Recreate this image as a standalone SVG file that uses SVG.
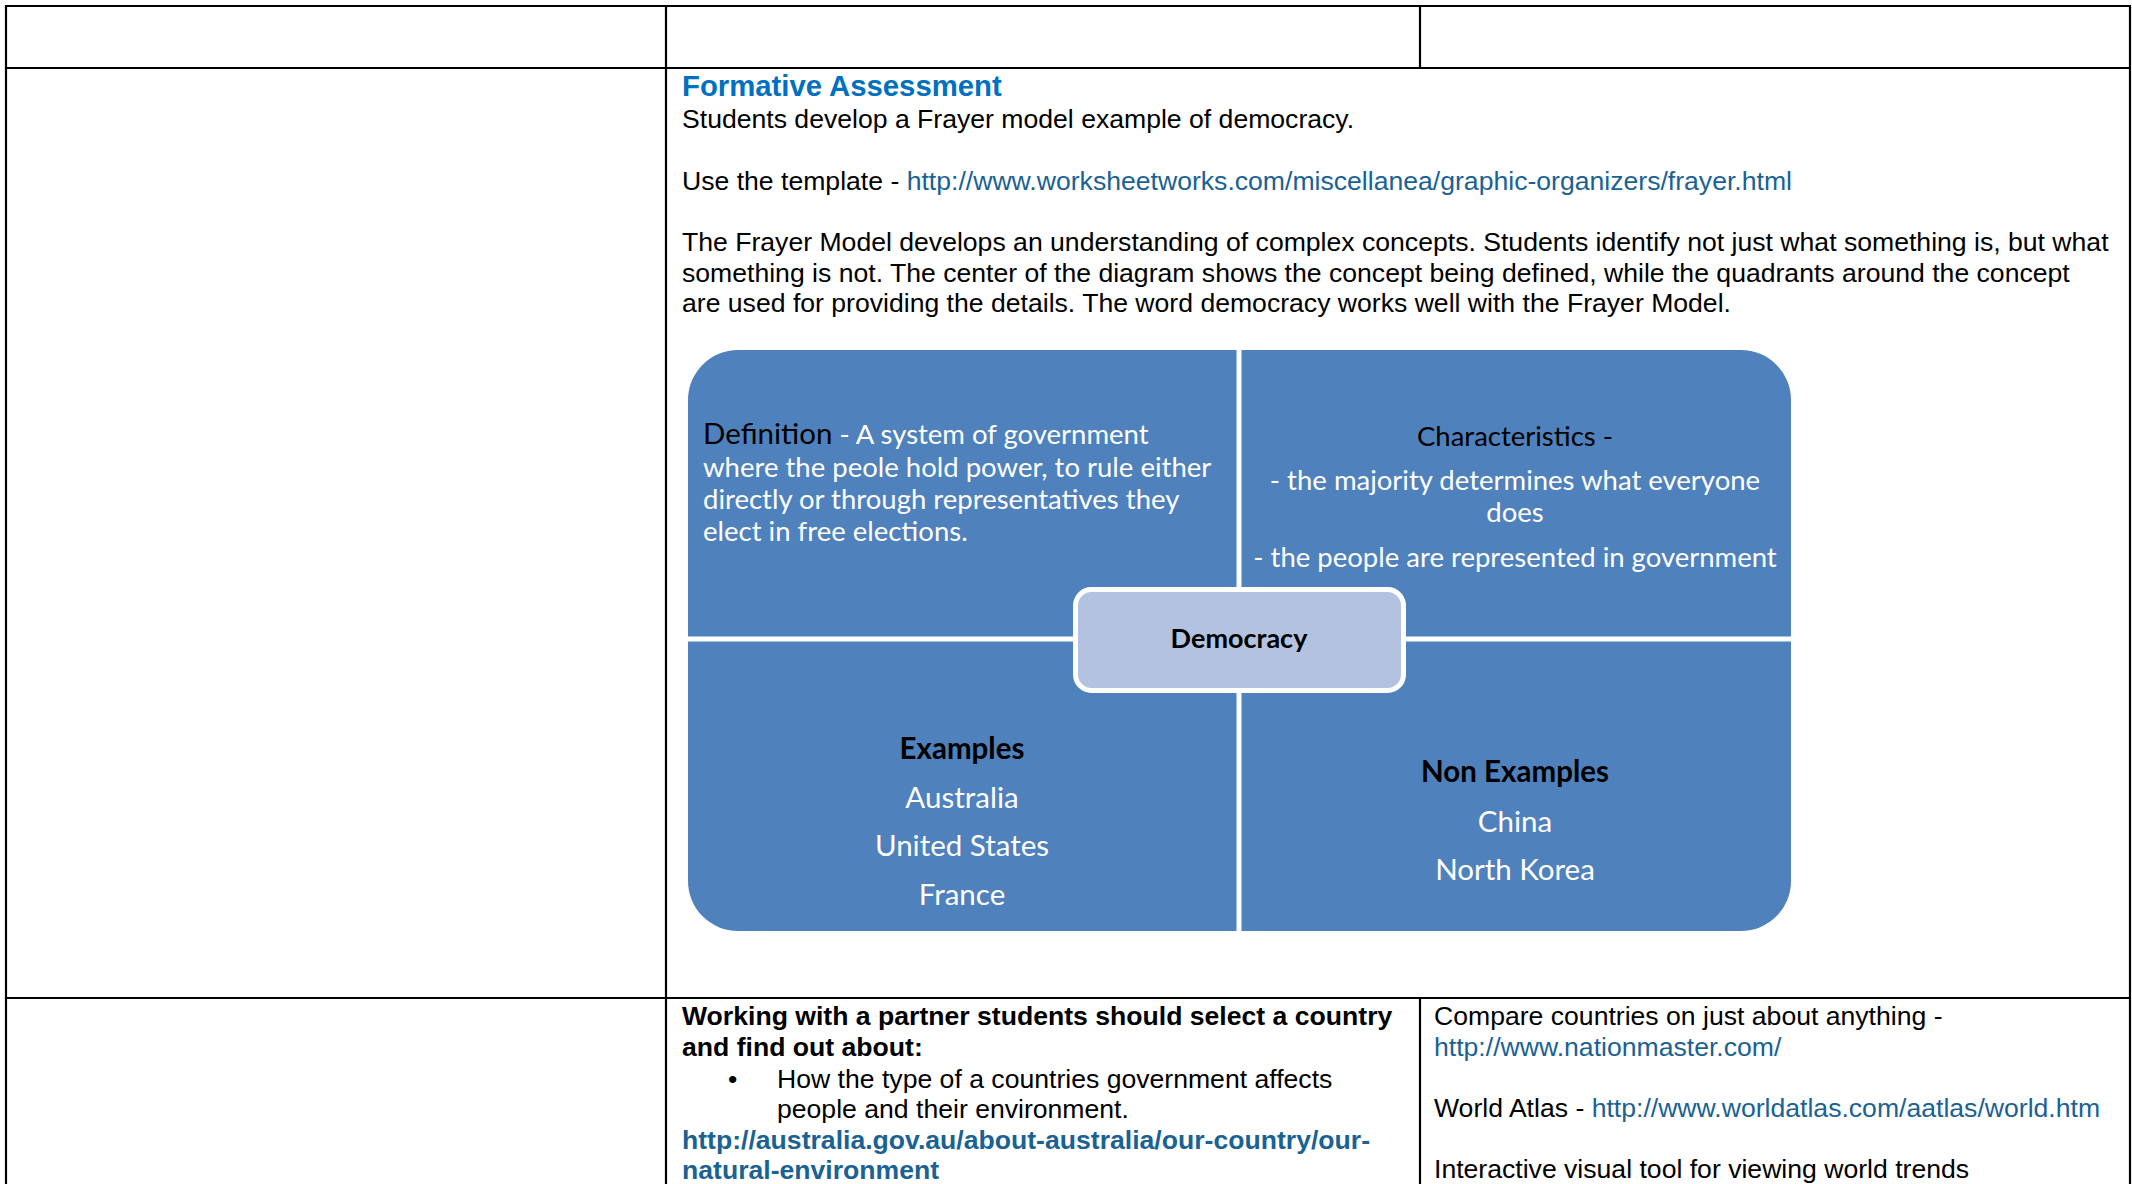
<svg xmlns="http://www.w3.org/2000/svg" width="2132" height="1184" viewBox="0 0 2132 1184">
<style>
.grid{stroke:#000;stroke-width:2.2;fill:none}
.ar{font-family:"Liberation Sans",Arial,sans-serif;font-size:26.6px;fill:#000}
.b{font-weight:bold}
.lk{fill:#1A6294}
.hd{font-family:"Liberation Sans",Arial,sans-serif;font-size:29.3px;font-weight:bold;fill:#0070C0}
.q{fill:#4F81BD}
.cb{font-family:Lato,"Open Sans",sans-serif;font-size:27.5px;fill:#fff}
.cl{font-family:Lato,"Open Sans",sans-serif;font-size:29.5px;fill:#fff}
.dm{font-family:Lato,"Open Sans",sans-serif;font-size:27px}
.blk{fill:#000}
.ctr{text-anchor:middle}
</style>
<rect width="2132" height="1184" fill="#fff"/>
<g id="table">
<line class="grid" x1="5" y1="6" x2="2131" y2="6"/>
<line class="grid" x1="5" y1="68" x2="2131" y2="68"/>
<line class="grid" x1="5" y1="998" x2="2131" y2="998"/>
<line class="grid" x1="6" y1="5" x2="6" y2="1184"/>
<line class="grid" x1="666" y1="5" x2="666" y2="1184"/>
<line class="grid" x1="1420" y1="5" x2="1420" y2="68"/>
<line class="grid" x1="1420" y1="998" x2="1420" y2="1184"/>
<line class="grid" x1="2130" y1="5" x2="2130" y2="1184"/>
</g>
<g id="formative-text">
<text class="hd" x="682" y="96">Formative Assessment</text>
<text class="ar" x="682" y="128">Students develop a Frayer model example of democracy.</text>
<text class="ar" x="682" y="190">Use the template - <tspan class="lk">http://www.worksheetworks.com/miscellanea/graphic-organizers/frayer.html</tspan></text>
<text class="ar" x="682" y="251">The Frayer Model develops an understanding of complex concepts. Students identify not just what something is, but what</text>
<text class="ar" x="682" y="281.5">something is not. The center of the diagram shows the concept being defined, while the quadrants around the concept</text>
<text class="ar" x="682" y="312">are used for providing the details. The word democracy works well with the Frayer Model.</text>
</g>
<g id="frayer-definition">
<path class="q" d="M688,400 A50,50 0 0 1 738,350 L1236.5,350 L1236.5,636.5 L688,636.5 Z"/>
<text class="cb" x="703" y="443.5"><tspan class="blk" style="font-size:29.5px">Definition</tspan> - A system of government</text>
<text class="cb" x="703" y="476.5">where the peole hold power, to rule either</text>
<text class="cb" x="703" y="509">directly or through representatives they</text>
<text class="cb" x="703" y="540.5">elect in free elections.</text>
</g>
<g id="frayer-characteristics">
<path class="q" d="M1241.5,350 L1741,350 A50,50 0 0 1 1791,400 L1791,636.5 L1241.5,636.5 Z"/>
<text class="cb ctr blk" x="1515" y="446">Characteristics -</text>
<text class="cb ctr" x="1515" y="490">- the majority determines what everyone</text>
<text class="cb ctr" x="1515" y="522">does</text>
<text class="cb ctr" x="1515" y="567">- the people are represented in government</text>
</g>
<g id="frayer-examples">
<path class="q" d="M688,641.5 L1236.5,641.5 L1236.5,931 L738,931 A50,50 0 0 1 688,881 Z"/>
<text class="cl ctr blk b" x="962" y="759">Examples</text>
<text class="cl ctr" x="962" y="808">Australia</text>
<text class="cl ctr" x="962" y="856">United States</text>
<text class="cl ctr" x="962" y="905">France</text>
</g>
<g id="frayer-non-examples">
<path class="q" d="M1241.5,641.5 L1791,641.5 L1791,881 A50,50 0 0 1 1741,931 L1241.5,931 Z"/>
<text class="cl ctr blk b" x="1515" y="782">Non Examples</text>
<text class="cl ctr" x="1515" y="832">China</text>
<text class="cl ctr" x="1515" y="880">North Korea</text>
</g>
<g id="frayer-center">
<rect x="1075.5" y="589.5" width="328" height="101" rx="16" fill="#B3C3DF" stroke="#fff" stroke-width="5"/>
<text class="dm ctr blk b" x="1239" y="648">Democracy</text>
</g>
<g id="activity-text">
<text class="ar b" x="682" y="1024.5">Working with a partner students should select a country</text>
<text class="ar b" x="682" y="1055.5">and find out about:</text>
<text class="ar" x="728" y="1087.5">•</text>
<text class="ar" x="777" y="1087.5">How the type of a countries government affects</text>
<text class="ar" x="777" y="1117.5">people and their environment.</text>
<text class="ar b lk" x="682" y="1148.5">http://australia.gov.au/about-australia/our-country/our-</text>
<text class="ar b lk" x="682" y="1178.5">natural-environment</text>
</g>
<g id="resources-text">
<text class="ar" x="1434" y="1024.5">Compare countries on just about anything -</text>
<text class="ar lk" x="1434" y="1055.5">http://www.nationmaster.com/</text>
<text class="ar" x="1434" y="1116.5">World Atlas - <tspan class="lk">http://www.worldatlas.com/aatlas/world.htm</tspan></text>
<text class="ar" x="1434" y="1177.5">Interactive visual tool for viewing world trends</text>
</g>
<g id="connectors"></g>
</svg>
